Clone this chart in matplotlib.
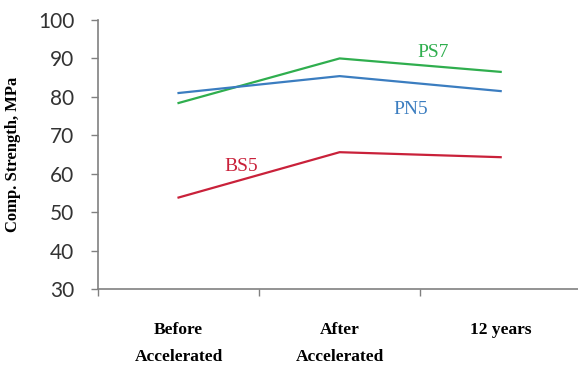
import matplotlib.pyplot as plt
from matplotlib.ticker import FixedLocator

categories = ["Before\nAccelerated", "After\nAccelerated", "12 years"]
ps7 = [78.4, 90.0, 86.5]
pn5 = [81.0, 85.4, 81.5]
bs5 = [53.8, 65.6, 64.3]

fig = plt.figure(figsize=(5.78, 3.69), dpi=100)
ax = fig.add_axes([98 / 578, 1 - 289 / 369, 1 - 98 / 578, 269 / 369])

x = range(len(categories))
ax.plot(x, ps7, color="#2fae4e", lw=1.6)
ax.plot(x, pn5, color="#3b7dc0", lw=1.6)
ax.plot(x, bs5, color="#c9213a", lw=1.6)

serif = "Liberation Serif"
ax.text(1.58, 91.5, "PS7", color="#2fae4e", fontsize=14, family=serif, ha="center", va="center")
ax.text(1.44, 76.8, "PN5", color="#3b7dc0", fontsize=14, family=serif, ha="center", va="center")
ax.text(0.39, 62.0, "BS5", color="#c9213a", fontsize=14, family=serif, ha="center", va="center")

ax.set_ylim(30, 100)
ax.set_xlim(-0.5, 2.48)
ax.set_yticks(range(30, 101, 10))
ax.set_xticks(list(x))
ax.set_xticklabels(categories, family=serif, fontweight="bold", fontsize=12.5, linespacing=1.9)
ax.xaxis.set_minor_locator(FixedLocator([-0.5, 0.5, 1.5]))
ax.tick_params(axis="x", which="major", length=0, pad=24)
ax.tick_params(axis="x", which="minor", length=5, color="#808080", width=1)
ax.tick_params(axis="y", length=5, color="#808080", width=1, labelsize=15, pad=12, labelcolor="#333333")
for lab in ax.get_yticklabels():
    lab.set_family("Lato")

ax.set_ylabel("Comp. Strength, MPa", family=serif, fontweight="bold", fontsize=12, labelpad=12)

for s in ["top", "right"]:
    ax.spines[s].set_visible(False)
for s in ["left", "bottom"]:
    ax.spines[s].set_color("#808080")
    ax.spines[s].set_linewidth(1.2)

fig.savefig("out.png", dpi=100)
